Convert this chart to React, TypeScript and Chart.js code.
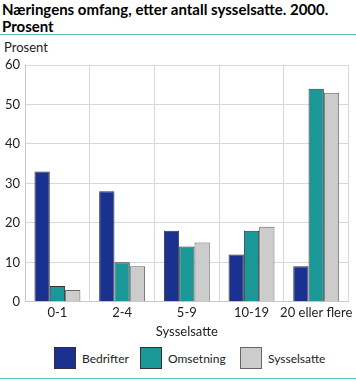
import React, { useEffect, useRef } from "react";
import { Chart, registerables } from "chart.js";

Chart.register(...registerables);

const categories = ["0-1", "2-4", "5-9", "10-19", "20 eller flere"];
const bedrifter = [33, 28, 18, 12, 9];
const omsetning = [4, 10, 14, 18, 54];
const sysselsatte = [3, 9, 15, 19, 53];
const seriesNames = ["Bedrifter", "Omsetning", "Sysselsatte"];
const seriesColors = ["#1a318f", "#1a9898", "#cccccc"];
const seriesBorders = ["#333", "#333", "#666"];
const legendLeft = [54, 140, 240];
const yTicks = [0, 10, 20, 30, 40, 50, 60];

const FONT = "Lato, sans-serif";

export default function App() {
  const ref = useRef<HTMLCanvasElement | null>(null);
  useEffect(() => {
    if (!ref.current) return;
    const values = [bedrifter, omsetning, sysselsatte];
    const chart = new Chart(ref.current, {
      type: "bar",
      data: {
        labels: categories,
        datasets: seriesNames.map((name, i) => ({
          label: name,
          data: values[i],
          backgroundColor: seriesColors[i],
          borderColor: seriesBorders[i],
          borderWidth: 1,
        })),
      },
      options: {
        animation: false,
        responsive: false,
        maintainAspectRatio: false,
        layout: { padding: { top: 20, left: 0, right: 7, bottom: 0 } },
        datasets: { bar: { categoryPercentage: 0.71, barPercentage: 1 } },
        plugins: {
          legend: { display: false },
          tooltip: { enabled: false },
        },
        scales: {
          x: {
            grid: { color: "#d8d8d8", offset: true, drawTicks: false },
            border: { color: "#c8c8c8" },
            ticks: { color: "#222", font: { family: FONT, size: 13 }, padding: 3, maxRotation: 0, autoSkip: false },
            title: { display: true, text: "Sysselsatte", color: "#222", font: { family: FONT, size: 13 }, padding: { top: 1, bottom: 0 } },
          },
          y: {
            min: 0,
            max: 60,
            afterBuildTicks: (axis: any) => {
              axis.ticks = yTicks.map((v) => ({ value: v }));
            },
            grid: { color: "#d8d8d8", drawTicks: false },
            border: { color: "#c8c8c8" },
            ticks: { color: "#222", font: { family: FONT, size: 13 }, padding: 5 },
          },
        },
      },
    });
    return () => chart.destroy();
  }, []);

  return (
    <div style={{ position: "fixed", left: 0, top: 0, width: 356, height: 382, background: "#fff", fontFamily: FONT, overflow: "hidden" }}>
      <div style={{ position: "absolute", left: 2, top: 1, fontWeight: 700, fontSize: 15, lineHeight: "17px", color: "#000" }}>
        Næringens omfang, etter antall sysselsatte. 2000.
        <br />
        Prosent
      </div>
      <div style={{ position: "absolute", left: 0, top: 34, width: 356, height: 1, background: "#5bbcbc" }} />
      <div style={{ position: "absolute", left: 4, top: 39, fontSize: 13, color: "#222" }}>Prosent</div>
      <canvas ref={ref} width={356} height={295} style={{ position: "absolute", left: 0, top: 45, width: 356, height: 295 }} />
      {seriesNames.map((name, i) => (
        <div key={name} style={{ position: "absolute", left: legendLeft[i], top: 347, height: 22, display: "flex", alignItems: "center", fontSize: 12, color: "#222", whiteSpace: "nowrap" }}>
          <div style={{ width: 20, height: 20, background: seriesColors[i], border: `1px solid ${seriesBorders[i]}` }} />
          <span style={{ marginLeft: 6 }}>{name}</span>
        </div>
      ))}
      <div style={{ position: "absolute", left: 0, top: 378, width: 356, height: 1, background: "#5bbcbc" }} />
    </div>
  );
}
